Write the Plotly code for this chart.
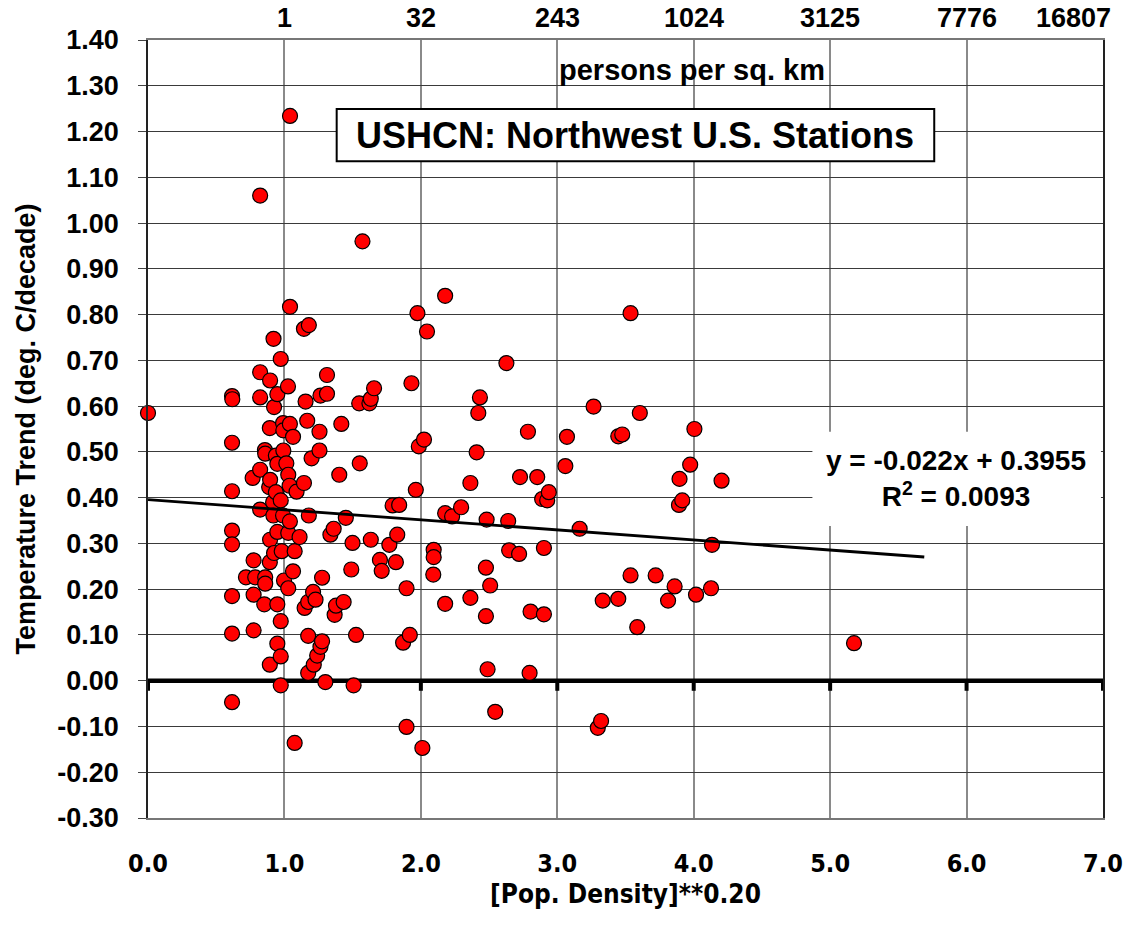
import plotly.graph_objects as go

# Station values: x = [population density]**0.20, y = temperature trend (deg C / decade)
pop_density_root = [
    0.000, 0.616, 0.618, 0.616, 0.616, 0.616, 0.616, 0.616, 0.616, 0.616,
    0.718, 0.767, 0.774, 0.774, 0.774, 0.786, 0.822, 0.822, 0.822, 0.822,
    0.822, 0.852, 0.857, 0.859, 0.859, 0.859, 0.888, 0.893, 0.893, 0.893,
    0.895, 0.895, 0.895, 0.917, 0.919, 0.920, 0.924, 0.924, 0.937, 0.937,
    0.948, 0.948, 0.948, 0.948, 0.948, 0.973, 0.973, 0.973, 0.973, 0.973,
    0.980, 0.990, 0.992, 0.992, 0.990, 0.997, 1.014, 1.026, 1.028, 1.028,
    1.028, 1.038, 1.040, 1.040, 1.041, 1.041, 1.063, 1.063, 1.075, 1.075,
    1.089, 1.111, 1.143, 1.143, 1.148, 1.155, 1.167, 1.174, 1.174, 1.174,
    1.179, 1.179, 1.199, 1.210, 1.215, 1.228, 1.240, 1.257, 1.257, 1.264,
    1.264, 1.276, 1.276, 1.300, 1.312, 1.312, 1.337, 1.361, 1.368, 1.378,
    1.402, 1.417, 1.434, 1.450, 1.490, 1.499, 1.507, 1.525, 1.548, 1.552,
    1.572, 1.623, 1.633, 1.633, 1.657, 1.700, 1.713, 1.769, 1.793, 1.817,
    1.827, 1.841, 1.870, 1.895, 1.895, 1.919, 1.931, 1.963, 1.975, 1.985,
    2.011, 2.023, 2.045, 2.091, 2.094, 2.094, 2.178, 2.178, 2.178, 2.229,
    2.295, 2.363, 2.363, 2.409, 2.421, 2.433, 2.477, 2.477, 2.482, 2.489,
    2.508, 2.545, 2.627, 2.640, 2.647, 2.720, 2.727, 2.785, 2.797, 2.804,
    2.853, 2.889, 2.902, 2.902, 2.926, 2.938, 3.059, 3.071, 3.164, 3.266,
    3.297, 3.321, 3.333, 3.447, 3.447, 3.476, 3.537, 3.537, 3.586, 3.605,
    3.721, 3.812, 3.860, 3.892, 3.896, 3.916, 3.974, 4.005, 4.017, 4.127,
    4.134, 4.204, 5.175,
]
temp_trend = [
    0.585, 0.622, 0.615, 0.520, 0.414, 0.328, 0.298, 0.185, 0.103, -0.047,
    0.226, 0.443, 0.263, 0.188, 0.110, 0.226, 1.060, 0.674, 0.619, 0.461,
    0.374, 0.167, 0.504, 0.496, 0.226, 0.212, 0.423, 0.552, 0.259, 0.035,
    0.656, 0.439, 0.308, 0.390, 0.361, 0.747, 0.598, 0.279, 0.492, 0.412,
    0.626, 0.474, 0.325, 0.167, 0.081, 0.703, 0.394, 0.130, 0.053, -0.010,
    0.283, 0.563, 0.547, 0.503, 0.361, 0.219, 0.475, 0.643, 0.450, 0.323,
    0.202, 0.426, 0.561, 0.348, 1.234, 0.817, 0.533, 0.239, 0.283, -0.136,
    0.413, 0.314, 0.769, 0.432, 0.159, 0.610, 0.568, 0.172, 0.098, 0.017,
    0.777, 0.361, 0.486, 0.194, 0.035, 0.177, 0.055, 0.544, 0.503, 0.623,
    0.074, 0.225, 0.086, -0.003, 0.668, 0.627, 0.319, 0.332, 0.144, 0.164,
    0.450, 0.561, 0.172, 0.356, 0.243, 0.301, -0.010, 0.100, 0.606, 0.475,
    0.960, 0.606, 0.616, 0.308, 0.639, 0.264, 0.240, 0.297, 0.383, 0.259,
    0.319, 0.384, 0.083, 0.202, -0.101, 0.100, 0.650, 0.417, 0.803, 0.512,
    -0.147, 0.527, 0.763, 0.232, 0.286, 0.270, 0.841, 0.366, 0.168, 0.359,
    0.379, 0.432, 0.181, 0.499, 0.585, 0.619, 0.247, 0.141, 0.352, 0.025,
    0.208, -0.068, 0.694, 0.349, 0.285, 0.277, 0.445, 0.544, 0.017, 0.151,
    0.445, 0.397, 0.290, 0.145, 0.394, 0.412, 0.469, 0.533, 0.332, 0.599,
    -0.103, -0.088, 0.175, 0.534, 0.179, 0.538, 0.803, 0.230, 0.117, 0.585,
    0.230, 0.175, 0.206, 0.384, 0.441, 0.394, 0.472, 0.550, 0.188, 0.202,
    0.297, 0.437, 0.082,
]

# Linear fit reported on the chart
fit_slope = -0.022
fit_intercept = 0.3955
fit_r2 = 0.0093
fit_x_end = 5.69

# Secondary scale: persons per sq. km at each integer of the root axis
persons_per_km2 = [1, 32, 243, 1024, 3125, 7776, 16807]

# Axis ticks
x_ticks = [0, 1, 2, 3, 4, 5, 6, 7]
x_tick_labels = ["0.0", "1.0", "2.0", "3.0", "4.0", "5.0", "6.0", "7.0"]
y_ticks = [round(-0.3 + 0.1 * i, 2) for i in range(18)]
y_tick_labels = [f"{v:.2f}" for v in y_ticks]

BOLD = "Liberation Sans"
NARROW = "Liberation Sans Narrow, DejaVu Sans Condensed, Liberation Sans"

fig = go.Figure()

# Heavy zero axis with short downward tick marks at each integer
fig.add_trace(go.Scatter(
    x=[x_ticks[0], x_ticks[-1]], y=[0, 0], mode="lines",
    line=dict(width=4.5, color="black"), showlegend=False, hoverinfo="skip",
))
fig.add_trace(go.Scatter(
    x=x_ticks, y=[0] * len(x_ticks), mode="markers",
    marker=dict(size=1, color="black", opacity=0),
    error_y=dict(type="data", symmetric=False, array=[0] * len(x_ticks),
                 arrayminus=[0.022] * len(x_ticks), thickness=4, width=0,
                 color="black"),
    cliponaxis=False, showlegend=False, hoverinfo="skip",
))

# Regression line
fit_x = [0.0, fit_x_end]
fit_y = [fit_intercept + fit_slope * v for v in fit_x]

fig.add_trace(go.Scatter(
    x=pop_density_root, y=temp_trend, mode="markers",
    marker=dict(size=15, color="#ff0000", line=dict(color="black", width=1.2)),
    cliponaxis=False, showlegend=False, hoverinfo="x+y",
))
fig.add_trace(go.Scatter(
    x=fit_x, y=fit_y, mode="lines",
    line=dict(color="black", width=2.8), showlegend=False, hoverinfo="skip",
))

fig.update_layout(
    width=1135, height=935,
    margin=dict(l=148, r=25, t=40, b=117),
    paper_bgcolor="white", plot_bgcolor="white",
    font=dict(family=BOLD, color="black"),
    xaxis=dict(
        range=[0, 7], tickvals=x_ticks, ticktext=x_tick_labels,
        showgrid=True, gridcolor="#8a8a8a", gridwidth=1.5,
        showline=True, linecolor="#777777", linewidth=1.5, mirror=True,
        ticks="", zeroline=False,
        tickfont=dict(family=NARROW, size=25, color="black", weight="bold"),
        ticklabelstandoff=22,
        title=dict(text="[Pop. Density]**0.20",
                   font=dict(family=NARROW, size=26, color="black", weight="bold"),
                   standoff=8),
    ),
    yaxis=dict(
        range=[-0.3, 1.4], tickvals=y_ticks, ticktext=y_tick_labels,
        showgrid=True, gridcolor="#3a3a3a", gridwidth=1,
        showline=True, linecolor="#222222", linewidth=1.5, mirror=True,
        ticks="outside", ticklen=8, tickcolor="#444444",
        zeroline=False,
        tickfont=dict(family=BOLD, size=27, color="black", weight="bold"),
        ticklabelstandoff=14,
        title=dict(text="Temperature Trend (deg. C/decade)",
                   font=dict(family=BOLD, size=27, color="black", weight="bold"),
                   standoff=14),
    ),
)

# Top scale labels (persons per sq. km)
for p in persons_per_km2:
    last = p == persons_per_km2[-1]
    fig.add_annotation(
        x=round(p ** 0.2, 6), y=1, xref="x", yref="paper", yanchor="bottom",
        yshift=5, text=str(p), showarrow=False,
        xanchor="right" if last else "center",
        xshift=10 if last else 0,
        font=dict(family=BOLD, size=27, color="black", weight="bold"),
    )
fig.add_annotation(
    x=3.99, y=1.335, xref="x", yref="y", text="persons per sq. km",
    showarrow=False,
    font=dict(family=BOLD, size=29, color="black", weight="bold"),
)

# Title box
fig.add_shape(type="rect", xref="x", yref="y", x0=1.383, x1=5.763,
              y0=1.135, y1=1.249, fillcolor="white",
              line=dict(color="black", width=2), layer="between")
fig.add_annotation(
    x=3.573, y=1.192, xref="x", yref="y",
    text="USHCN: Northwest U.S. Stations", showarrow=False,
    font=dict(family=BOLD, size=36, color="black", weight="bold"),
)

# Regression equation
fig.add_shape(type="rect", xref="x", yref="y", x0=4.87, x1=6.985,
              y0=0.338, y1=0.544, fillcolor="white",
              line=dict(width=0), layer="between")
fig.add_annotation(
    x=5.925, y=0.441, xref="x", yref="y",
    text=(f"y = {fit_slope:.3f}x + {fit_intercept:.4f}<br>"
          f"R<sup>2</sup> = {fit_r2:.4f}"),
    showarrow=False, align="center",
    font=dict(family=BOLD, size=28, color="black", weight="bold"),
)

fig.write_html("out.html")
